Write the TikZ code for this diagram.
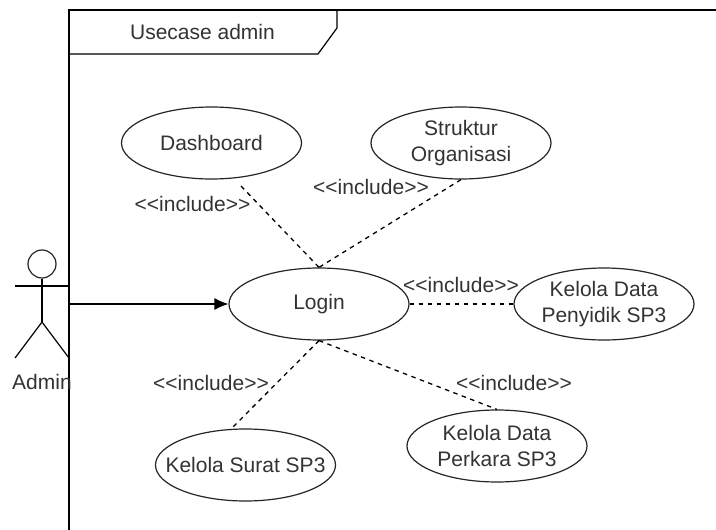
\documentclass[tikz,border=0pt]{standalone}
\usepackage{fontspec}
\setmainfont[Ligatures=NoCommon]{Liberation Sans}
\usetikzlibrary{arrows.meta,shapes.geometric}
\newcommand{\incl}{<\kern0pt<include>\kern0pt>}
\begin{document}
\begin{tikzpicture}[x=1pt,y=-1pt,
  uc/.style={draw=black!85,line width=1.2pt,ellipse,inner sep=-40pt,minimum width=180pt,minimum height=72pt,align=center,text=black!80,font=\fontsize{21}{26.5}\selectfont},
  lbl/.style={inner sep=0pt,text=black!80,font=\fontsize{21}{24}\selectfont},
  inc/.style={dash pattern=on 4.5pt off 4.5pt,line width=1.3pt},
  ln/.style={line width=1.2pt}]
\useasboundingbox (0,0) rectangle (716,530);
\fill[white] (0,0) rectangle (716,530);
\coordinate (fb) at (69,530); \coordinate (ft) at (69,10); \coordinate (fr) at (716,10);
\coordinate (tl) at (69,54); \coordinate (tm) at (318,54); \coordinate (tc) at (337,28); \coordinate (tt) at (337,10);
\draw[ln] (fb) -- (ft) -- (fr);
\draw[ln] (tl) -- (tm) -- (tc) -- (tt);
\node[lbl] (title) at (202.5,32) {Usecase admin};
\node[uc] (dash) at (211.5,143) {Dashboard};
\node[uc] (so) at (461,143) {Struktur\\Organisasi};
\node[uc] (login) at (319,304) {Login};
\node[uc] (pen) at (604,304) {Kelola Data\\Penyidik SP3};
\node[uc] (per) at (497,446) {Kelola Data\\Perkara SP3};
\node[uc] (sur) at (245.5,465) {Kelola Surat SP3};
\coordinate (d0) at (241,186);
\coordinate (s0) at (230,430);
\draw[inc] (d0) -- (login.north);
\draw[inc] (so.south) -- (login.north);
\draw[inc] (login.east) -- (pen.west);
\draw[inc] (login.south) -- (per.north);
\draw[inc] (login.south) -- (s0);
\node[lbl] (l1) at (192.5,204) {\incl};
\node[lbl] (l2) at (371,187) {\incl};
\node[lbl] (l3) at (461,285) {\incl};
\node[lbl] (l4) at (211,383) {\incl};
\node[lbl] (l5) at (514,383) {\incl};
\node[draw=black!85,line width=1.2pt,circle,minimum size=28pt,inner sep=0pt] (head) at (42,264) {};
\coordinate (hip) at (42,322);
\draw[ln] (head) -- (hip);
\coordinate (al) at (15,286); \coordinate (ar) at (69,286);
\draw[ln] (al) -- (ar);
\coordinate (fl) at (15,358); \coordinate (frr) at (69,358);
\draw[ln] (fl) -- (hip) -- (frr);
\node[lbl] (admin) at (42,382) {Admin};
\coordinate (as) at (69,304);
\draw[ln,-{Latex[length=14pt,width=12pt]}] (as) -- (login.west);
\end{tikzpicture}
\end{document}
